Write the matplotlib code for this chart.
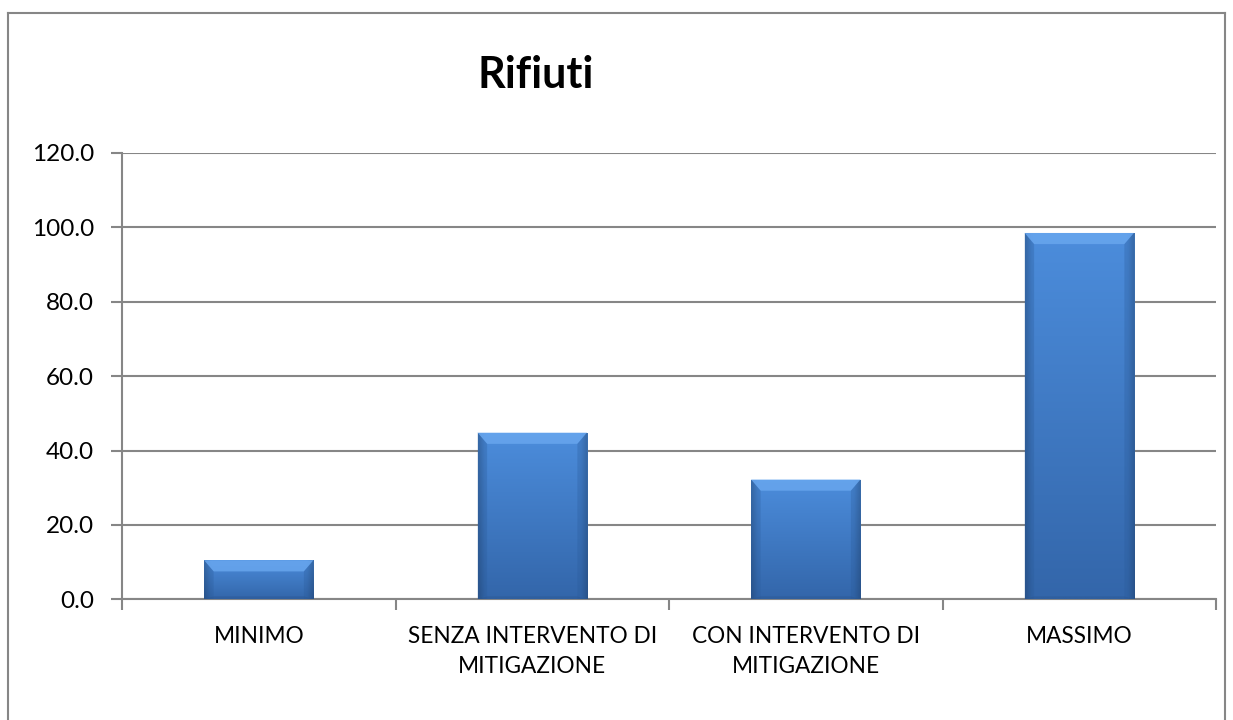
import numpy as np
import matplotlib
matplotlib.use("Agg")
import matplotlib.pyplot as plt
from matplotlib.lines import Line2D
from matplotlib.patches import Polygon
from matplotlib.ticker import FormatStrFormatter, FixedLocator

categories = ["MINIMO", "SENZA INTERVENTO DI\nMITIGAZIONE", "CON INTERVENTO DI\nMITIGAZIONE", "MASSIMO"]
values = [10.5, 44.8, 32.2, 98.5]
title = "Rifiuti"
y_ticks = [0, 20, 40, 60, 80, 100, 120]

plt.rcParams['font.family'] = ['Lato', 'DejaVu Sans']

fig = plt.figure(figsize=(12.33, 7.2), dpi=100)
ax = fig.add_axes([122/1233, (720-599.3)/720, (1216-122)/1233, (599.3-153)/720])

grey = "#868686"
x = np.arange(len(categories))
bars = ax.bar(x, values, width=0.40, color="#3C7BC8", zorder=3, linewidth=0)

ax.set_xlim(-0.5, len(categories) - 0.5)
ax.set_ylim(y_ticks[0], y_ticks[-1])
ax.set_yticks(y_ticks)
ax.yaxis.set_major_formatter(FormatStrFormatter("%.1f"))
ax.grid(axis="y", color=grey, linewidth=1.5, zorder=0)
ax.set_axisbelow(True)

ax.set_xticks(x)
ax.set_xticklabels(categories, fontsize=16.3, linespacing=1.55)
ax.xaxis.set_minor_locator(FixedLocator(np.arange(-0.5, len(categories), 1.0)))
ax.tick_params(axis="x", which="major", length=0, pad=19)
ax.tick_params(axis="x", which="minor", length=8, width=1.5, color=grey, direction="out")
ax.tick_params(axis="y", length=8, width=1.5, color=grey, labelsize=17.5, pad=12)

for s in ["top", "right"]:
    ax.spines[s].set_visible(False)
for s in ["left", "bottom"]:
    ax.spines[s].set_color(grey)
    ax.spines[s].set_linewidth(1.5)

# gradient fill for bars
top_c = np.array([0x4C, 0x8D, 0xDC]) / 255.0
bot_c = np.array([0x33, 0x66, 0xAA]) / 255.0
ny, nx = 100, 60
vy = np.linspace(0, 1, ny)[:, None]  # 0 bottom -> 1 top
hx = np.linspace(-1, 1, nx)[None, :]
edge = np.clip((np.abs(hx) - 0.88) / 0.12, 0, 1) * 0.2
for b in bars:
    bx, bw, bh = b.get_x(), b.get_width(), b.get_height()
    base = bot_c[None, None, :] + (top_c - bot_c)[None, None, :] * vy[:, :, None]
    img = base * (1 - edge[:, :, None])
    img = np.clip(img, 0, 1)
    im = ax.imshow(img, extent=(bx, bx + bw, 0, bh), origin="lower", aspect="auto",
                   zorder=4, interpolation="bilinear")
    im.set_clip_path(b)
    # top bevel
    bev = min(3.0, bh * 0.3)
    ins = 0.035
    poly = Polygon([[bx, bh], [bx + bw, bh], [bx + bw - ins, bh - bev], [bx + ins, bh - bev]],
                   closed=True, facecolor="#68A6EE", edgecolor="none", zorder=5, alpha=0.85)
    ax.add_patch(poly)
    for side in (0, 1):
        if side == 0:
            pts = [[bx, 0], [bx, bh], [bx + ins, bh - bev], [bx + ins, 0]]
        else:
            pts = [[bx + bw, 0], [bx + bw, bh], [bx + bw - ins, bh - bev], [bx + bw - ins, 0]]
        ax.add_patch(Polygon(pts, closed=True, facecolor="#2A5A98", edgecolor="none",
                             zorder=5, alpha=0.3))
    ax.add_patch(Polygon([[bx, 0], [bx + bw, 0], [bx + bw - ins, 0.8], [bx + ins, 0.8]],
                         closed=True, facecolor="#2A5590", edgecolor="none", zorder=5, alpha=0.4))

ax.set_xlim(-0.5, len(categories) - 0.5)
ax.set_ylim(y_ticks[0], y_ticks[-1])

fig.text(536/1233, (720-75)/720, title, fontsize=31, fontweight="bold", ha="center", va="center")

# outer frame
l, r, t = 8/1233, 1225/1233, (720-13)/720
for xs, ys in [([l, l], [0, t]), ([l, r], [t, t]), ([r, r], [t, 0])]:
    fig.add_artist(Line2D(xs, ys, transform=fig.transFigure, color=grey, linewidth=1.5))

fig.savefig("out.png", dpi=100)
